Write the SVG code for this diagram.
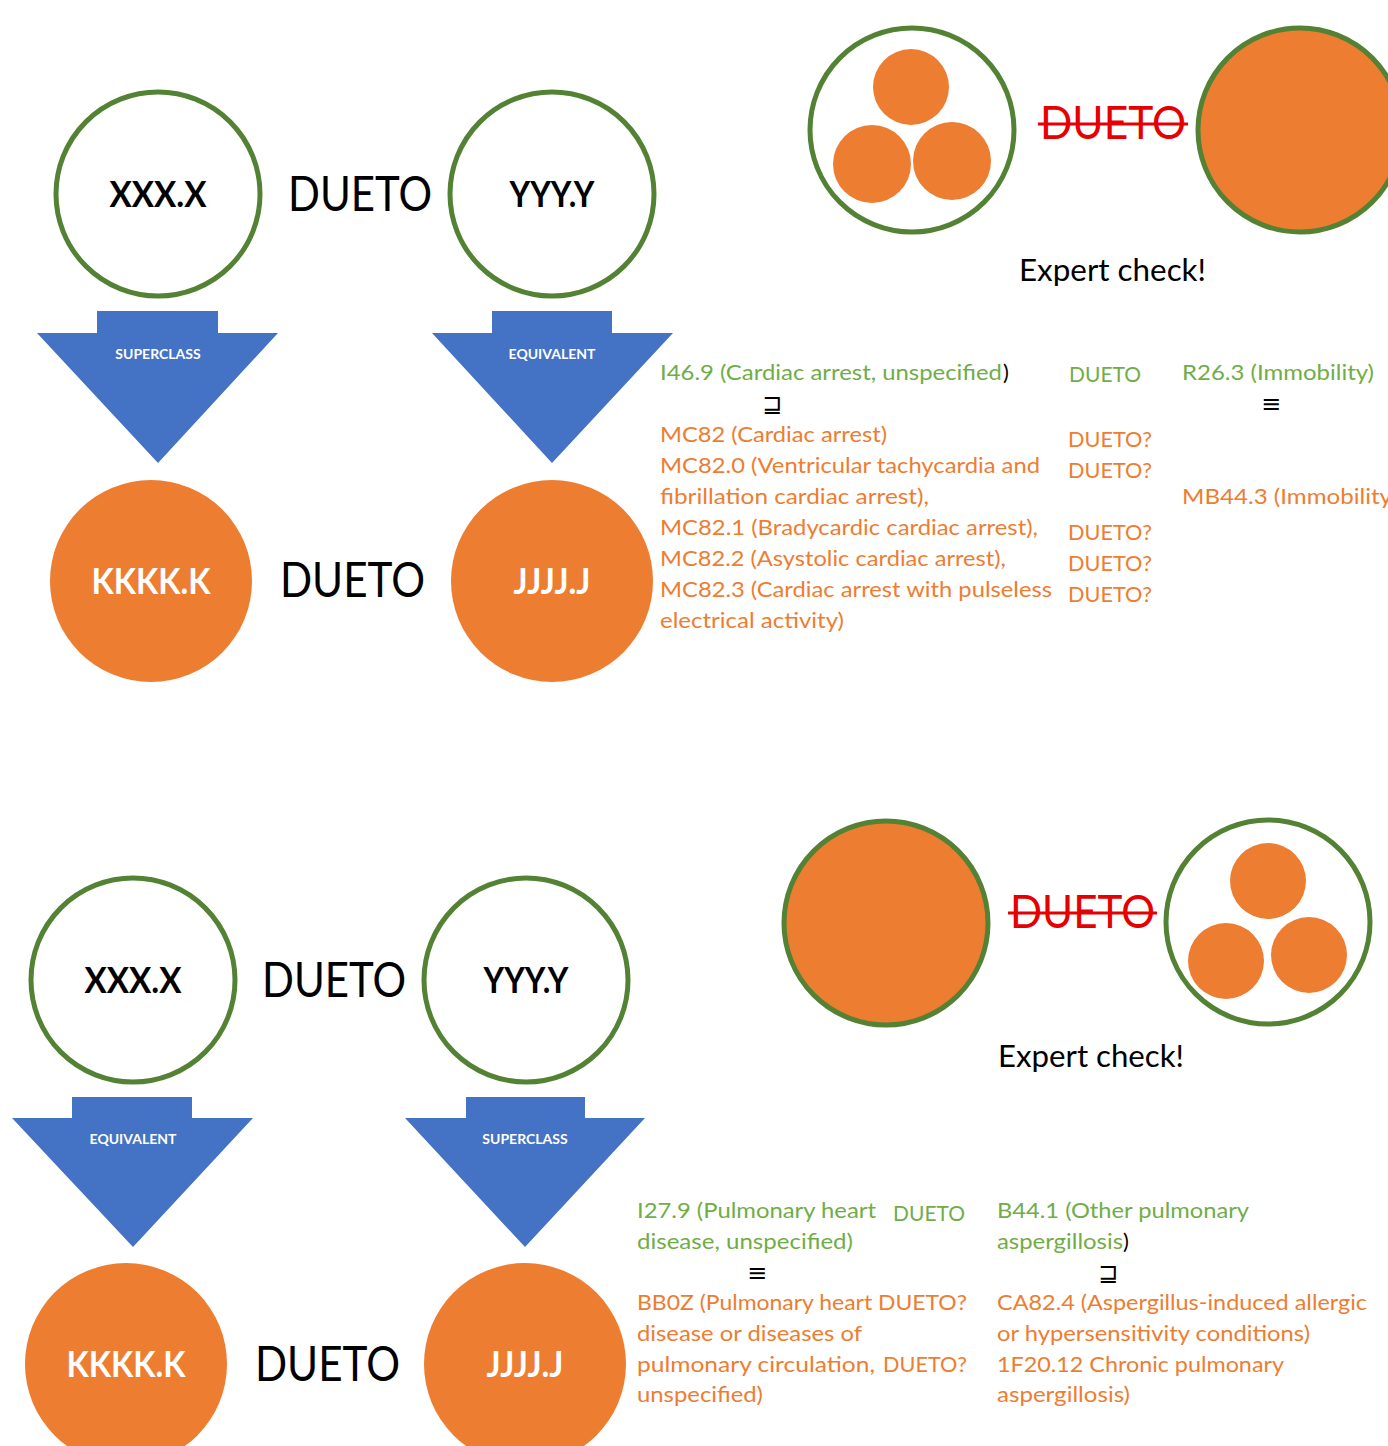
<svg xmlns="http://www.w3.org/2000/svg" width="1388" height="1446" viewBox="0 0 1388 1446">
  <style>
    .ring { fill: #ffffff; stroke: #548235; stroke-width: 5; }
    .ball { fill: #ED7D31; }
    .ballr { fill: #ED7D31; stroke: #548235; stroke-width: 5; }
    .arrow { fill: #4472C4; }
    .code { font-family: Lato, "Open Sans", sans-serif; font-weight: bold; font-size: 37px; text-anchor: middle; }
    .dark { fill: #000000; }
    .light { fill: #ffffff; }
    .big { font-family: Lato, "Open Sans", sans-serif; font-size: 48px; fill: #000000; }
    .lbl { font-family: Lato, "Open Sans", sans-serif; font-weight: bold; font-size: 14px; fill: #ffffff; text-anchor: middle; }
    .strike { font-family: Lato, "Open Sans", sans-serif; font-size: 46px; fill: #E60000; }
    .strikeline { stroke: #E60000; stroke-width: 3; }
    .note { font-family: Lato, "Open Sans", sans-serif; font-size: 30px; fill: #000000; }
    .t { font-family: Lato, "Open Sans", sans-serif; font-size: 22px; }
    .sym { font-family: "DejaVu Sans", sans-serif; font-size: 24px; fill: #000000; text-anchor: middle; }
    .g { fill: #70AD47; }
    .o { fill: #ED7D31; }
    .k { fill: #000000; }
  </style>

  <!-- ===== Upper panel ===== -->
  <g id="top-xxx">
    <circle class="ring" cx="158" cy="194" r="102"/>
    <text class="code dark" x="158" y="207" textLength="97" lengthAdjust="spacingAndGlyphs">XXX.X</text>
  </g>
  <text class="big" x="288" y="211" textLength="144" lengthAdjust="spacingAndGlyphs">DUETO</text>
  <g id="top-yyy">
    <circle class="ring" cx="552" cy="194" r="102"/>
    <text class="code dark" x="552" y="207" textLength="85" lengthAdjust="spacingAndGlyphs">YYY.Y</text>
  </g>

  <g id="top-kkkk">
    <circle class="ball" cx="151" cy="581" r="101"/>
    <text class="code light" x="151" y="594" textLength="119" lengthAdjust="spacingAndGlyphs">KKKK.K</text>
  </g>
  <text class="big" x="280" y="597" textLength="145" lengthAdjust="spacingAndGlyphs">DUETO</text>
  <g id="top-jjjj">
    <circle class="ball" cx="552" cy="581" r="101"/>
    <text class="code light" x="552" y="594" textLength="77" lengthAdjust="spacingAndGlyphs">JJJJ.J</text>
  </g>

  <g id="connectors">
    <!-- upper panel block arrows -->
    <path class="arrow" d="M97,311 H218 V333 H278 L158,463 L37,333 H97 Z"/>
    <text class="lbl" x="158" y="359">SUPERCLASS</text>
    <path class="arrow" d="M492,311 H612 V333 H673 L552,463 L432,333 H492 Z"/>
    <text class="lbl" x="552" y="359">EQUIVALENT</text>
    <!-- lower panel block arrows -->
    <path class="arrow" d="M72,1097 H192 V1118 H253 L133,1247 L12,1118 H72 Z"/>
    <text class="lbl" x="133" y="1144">EQUIVALENT</text>
    <path class="arrow" d="M466,1097 H585 V1118 H645 L525,1247 L405,1118 H466 Z"/>
    <text class="lbl" x="525" y="1144">SUPERCLASS</text>
  </g>

  <!-- upper illustration: many-to-one -->
  <g id="top-group-many">
    <circle class="ring" cx="912" cy="130" r="102"/>
    <circle class="ball" cx="911" cy="87" r="38"/>
    <circle class="ball" cx="872" cy="164" r="39"/>
    <circle class="ball" cx="952" cy="161" r="39"/>
  </g>
  <g id="top-strike">
    <text class="strike" x="1040" y="139" textLength="146" lengthAdjust="spacingAndGlyphs">DUETO</text>
    <line class="strikeline" x1="1038" y1="124" x2="1188" y2="124"/>
  </g>
  <g id="top-group-one">
    <circle class="ballr" cx="1300" cy="130" r="102"/>
  </g>
  <text class="note" x="1019" y="281" textLength="187" lengthAdjust="spacingAndGlyphs">Expert check!</text>

  <!-- upper code lists -->
  <g id="top-codes">
    <text class="t g" x="660" y="380" textLength="342" lengthAdjust="spacingAndGlyphs">I46.9 (Cardiac arrest, unspecified</text>
    <text class="t k" x="1003" y="380">)</text>
    <text class="sym" x="772" y="412">⊒</text>
    <text class="t g" x="1069" y="382" textLength="72" lengthAdjust="spacingAndGlyphs">DUETO</text>
    <text class="t g" x="1182" y="380" textLength="192" lengthAdjust="spacingAndGlyphs">R26.3 (Immobility)</text>
    <text class="sym" x="1271" y="412">≡</text>

    <text class="t o" x="660" y="442" textLength="227" lengthAdjust="spacingAndGlyphs">MC82 (Cardiac arrest)</text>
    <text class="t o" x="660" y="473" textLength="380" lengthAdjust="spacingAndGlyphs">MC82.0 (Ventricular tachycardia and</text>
    <text class="t o" x="660" y="504" textLength="269" lengthAdjust="spacingAndGlyphs">fibrillation cardiac arrest),</text>
    <text class="t o" x="660" y="535" textLength="378" lengthAdjust="spacingAndGlyphs">MC82.1 (Bradycardic cardiac arrest),</text>
    <text class="t o" x="660" y="566" textLength="346" lengthAdjust="spacingAndGlyphs">MC82.2 (Asystolic cardiac arrest),</text>
    <text class="t o" x="660" y="597" textLength="392" lengthAdjust="spacingAndGlyphs">MC82.3 (Cardiac arrest with pulseless</text>
    <text class="t o" x="660" y="628" textLength="184" lengthAdjust="spacingAndGlyphs">electrical activity)</text>

    <text class="t o" x="1068" y="447" textLength="84" lengthAdjust="spacingAndGlyphs">DUETO?</text>
    <text class="t o" x="1068" y="478" textLength="84" lengthAdjust="spacingAndGlyphs">DUETO?</text>
    <text class="t o" x="1068" y="540" textLength="84" lengthAdjust="spacingAndGlyphs">DUETO?</text>
    <text class="t o" x="1068" y="571" textLength="84" lengthAdjust="spacingAndGlyphs">DUETO?</text>
    <text class="t o" x="1068" y="602" textLength="84" lengthAdjust="spacingAndGlyphs">DUETO?</text>

    <text class="t o" x="1182" y="504" textLength="210" lengthAdjust="spacingAndGlyphs">MB44.3 (Immobility</text>
  </g>

  <!-- ===== Lower panel ===== -->
  <g id="bottom-xxx">
    <circle class="ring" cx="133" cy="980" r="102"/>
    <text class="code dark" x="133" y="993" textLength="97" lengthAdjust="spacingAndGlyphs">XXX.X</text>
  </g>
  <text class="big" x="262" y="997" textLength="144" lengthAdjust="spacingAndGlyphs">DUETO</text>
  <g id="bottom-yyy">
    <circle class="ring" cx="526" cy="980" r="102"/>
    <text class="code dark" x="526" y="993" textLength="85" lengthAdjust="spacingAndGlyphs">YYY.Y</text>
  </g>

  <g id="bottom-kkkk">
    <circle class="ball" cx="126" cy="1364" r="101"/>
    <text class="code light" x="126" y="1377" textLength="119" lengthAdjust="spacingAndGlyphs">KKKK.K</text>
  </g>
  <text class="big" x="255" y="1381" textLength="145" lengthAdjust="spacingAndGlyphs">DUETO</text>
  <g id="bottom-jjjj">
    <circle class="ball" cx="525" cy="1364" r="101"/>
    <text class="code light" x="525" y="1377" textLength="77" lengthAdjust="spacingAndGlyphs">JJJJ.J</text>
  </g>

  <!-- lower illustration: one-to-many -->
  <g id="bottom-group-one">
    <circle class="ballr" cx="886" cy="923" r="102"/>
  </g>
  <g id="bottom-strike">
    <text class="strike" x="1010" y="928" textLength="145" lengthAdjust="spacingAndGlyphs">DUETO</text>
    <line class="strikeline" x1="1008" y1="913" x2="1157" y2="913"/>
  </g>
  <g id="bottom-group-many">
    <circle class="ring" cx="1268" cy="922" r="102"/>
    <circle class="ball" cx="1268" cy="881" r="38"/>
    <circle class="ball" cx="1226" cy="961" r="38"/>
    <circle class="ball" cx="1309" cy="955" r="38"/>
  </g>
  <text class="note" x="998" y="1067" textLength="186" lengthAdjust="spacingAndGlyphs">Expert check!</text>

  <!-- lower code lists -->
  <g id="bottom-codes">
    <text class="t g" x="637" y="1218" textLength="239" lengthAdjust="spacingAndGlyphs">I27.9 (Pulmonary heart</text>
    <text class="t g" x="637" y="1249" textLength="216" lengthAdjust="spacingAndGlyphs">disease, unspecified)</text>
    <text class="t g" x="893" y="1221" textLength="72" lengthAdjust="spacingAndGlyphs">DUETO</text>
    <text class="t g" x="997" y="1218" textLength="252" lengthAdjust="spacingAndGlyphs">B44.1 (Other pulmonary</text>
    <text class="t g" x="997" y="1249" textLength="126" lengthAdjust="spacingAndGlyphs">aspergillosis</text>
    <text class="t k" x="1123" y="1249">)</text>
    <text class="sym" x="757" y="1281">≡</text>
    <text class="sym" x="1108" y="1281">⊒</text>

    <text class="t o" x="637" y="1310" textLength="330" lengthAdjust="spacingAndGlyphs">BB0Z (Pulmonary heart DUETO?</text>
    <text class="t o" x="637" y="1341" textLength="225" lengthAdjust="spacingAndGlyphs">disease or diseases of</text>
    <text class="t o" x="637" y="1372" textLength="238" lengthAdjust="spacingAndGlyphs">pulmonary circulation,</text>
    <text class="t o" x="883" y="1372" textLength="84" lengthAdjust="spacingAndGlyphs">DUETO?</text>
    <text class="t o" x="637" y="1402" textLength="126" lengthAdjust="spacingAndGlyphs">unspecified)</text>

    <text class="t o" x="997" y="1310" textLength="370" lengthAdjust="spacingAndGlyphs">CA82.4 (Aspergillus-induced allergic</text>
    <text class="t o" x="997" y="1341" textLength="313" lengthAdjust="spacingAndGlyphs">or hypersensitivity conditions)</text>
    <text class="t o" x="997" y="1372" textLength="287" lengthAdjust="spacingAndGlyphs">1F20.12 Chronic pulmonary</text>
    <text class="t o" x="997" y="1402" textLength="133" lengthAdjust="spacingAndGlyphs">aspergillosis)</text>
  </g>
</svg>
